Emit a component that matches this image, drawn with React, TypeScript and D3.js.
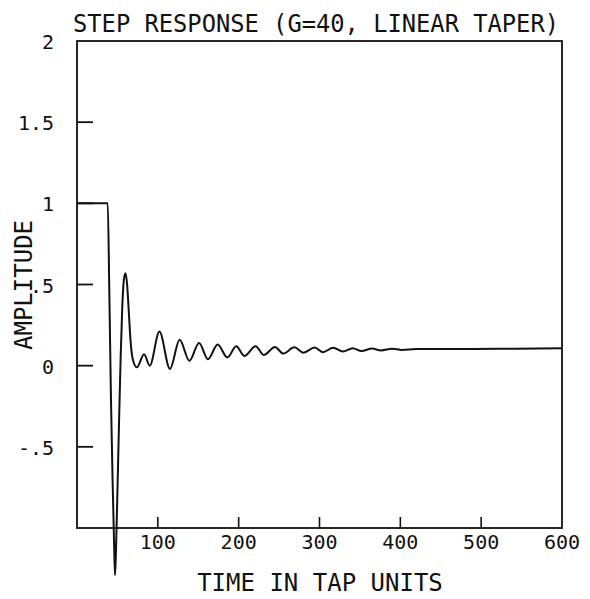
import React from "react";
import * as d3 from "d3";

const timeSteps = [0, 38, 40, 42, 44, 46, 47, 48, 50, 52, 54, 56, 58, 60, 62, 64, 66, 69, 74, 83, 90, 102, 115, 127, 139, 151, 162, 174, 186, 197, 207, 221, 231, 245, 255, 269, 280, 294, 304, 317, 329, 341, 352, 365, 376, 390, 402, 420, 460, 520, 600];
const amplitude = [1, 1, 0.45, -0.2, -0.7, -1.12, -1.29, -1.18, -0.78, -0.35, 0.05, 0.36, 0.53, 0.57, 0.5, 0.34, 0.17, 0.04, -0.01, 0.07, 0.0, 0.21, -0.02, 0.16, 0.03, 0.14, 0.04, 0.13, 0.05, 0.12, 0.06, 0.12, 0.066, 0.115, 0.075, 0.113, 0.08, 0.112, 0.083, 0.11, 0.087, 0.108, 0.09, 0.106, 0.094, 0.104, 0.097, 0.102, 0.102, 0.104, 0.108];

const xTicks = [100, 200, 300, 400, 500];
const xTickLabels = ["100", "200", "300", "400", "500", "600"];
const xLabelValues = [100, 200, 300, 400, 500, 600];
const yTicks = [1.5, 1, 0.5, 0, -0.5];
const yLabelValues = [2, 1.5, 1, 0.5, 0, -0.5];
const yTickLabels = ["2", "1.5", "1", ".5", "0", "-.5"];

const title = "STEP RESPONSE (G=40, LINEAR TAPER)";
const xTitle = "TIME IN TAP UNITS";
const yTitle = "AMPLITUDE";

export default function App() {
  const W = 590, H = 599;
  const left = 77, right = 562, top = 41, bottom = 528;
  const x = d3.scaleLinear().domain([0, 600]).range([left, right]);
  const y = d3.scaleLinear().domain([-1, 2]).range([bottom, top]);
  const pts: [number, number][] = timeSteps.map((t, i) => [t, amplitude[i]]);
  const line = d3
    .line<[number, number]>()
    .x((d) => x(d[0]))
    .y((d) => y(d[1]))
    .curve(d3.curveMonotoneX);
  const font = "'DejaVu Sans Mono', monospace";
  const ink = "#111";
  return (
    <svg
      width={W}
      height={H}
      style={{ position: "absolute", left: 0, top: 0, background: "#fff" }}
    >
      <text x={73} y={32} fontFamily={font} fontSize={24} fill={ink} textLength={486} lengthAdjust="spacingAndGlyphs">
        {title}
      </text>
      <rect x={left} y={top} width={right - left} height={bottom - top} fill="none" stroke={ink} strokeWidth={1.8} />
      {yTicks.map((v) => (
        <line key={"yt" + v} x1={left} x2={left + 16} y1={y(v)} y2={y(v)} stroke={ink} strokeWidth={1.8} />
      ))}
      {xTicks.map((v) => (
        <line key={"xt" + v} x1={x(v)} x2={x(v)} y1={bottom} y2={bottom - 11} stroke={ink} strokeWidth={1.6} />
      ))}
      {yLabelValues.map((v, i) => (
        <text key={"yl" + v} x={54} y={y(v) + 8} textAnchor="end" fontFamily={font} fontSize={20} fill={ink}>
          {yTickLabels[i]}
        </text>
      ))}
      {xLabelValues.map((v, i) => (
        <text key={"xl" + v} x={x(v)} y={549} textAnchor="middle" fontFamily={font} fontSize={20} fill={ink}>
          {xTickLabels[i]}
        </text>
      ))}
      <text x={320} y={591} textAnchor="middle" fontFamily={font} fontSize={24} fill={ink}>
        {xTitle}
      </text>
      <text
        transform={`translate(32, 285) rotate(-90)`}
        textAnchor="middle"
        fontFamily={font}
        fontSize={24}
        fill={ink}
      >
        {yTitle}
      </text>
      <path d={line(pts) || ""} fill="none" stroke={ink} strokeWidth={2} strokeLinejoin="round" />
    </svg>
  );
}
